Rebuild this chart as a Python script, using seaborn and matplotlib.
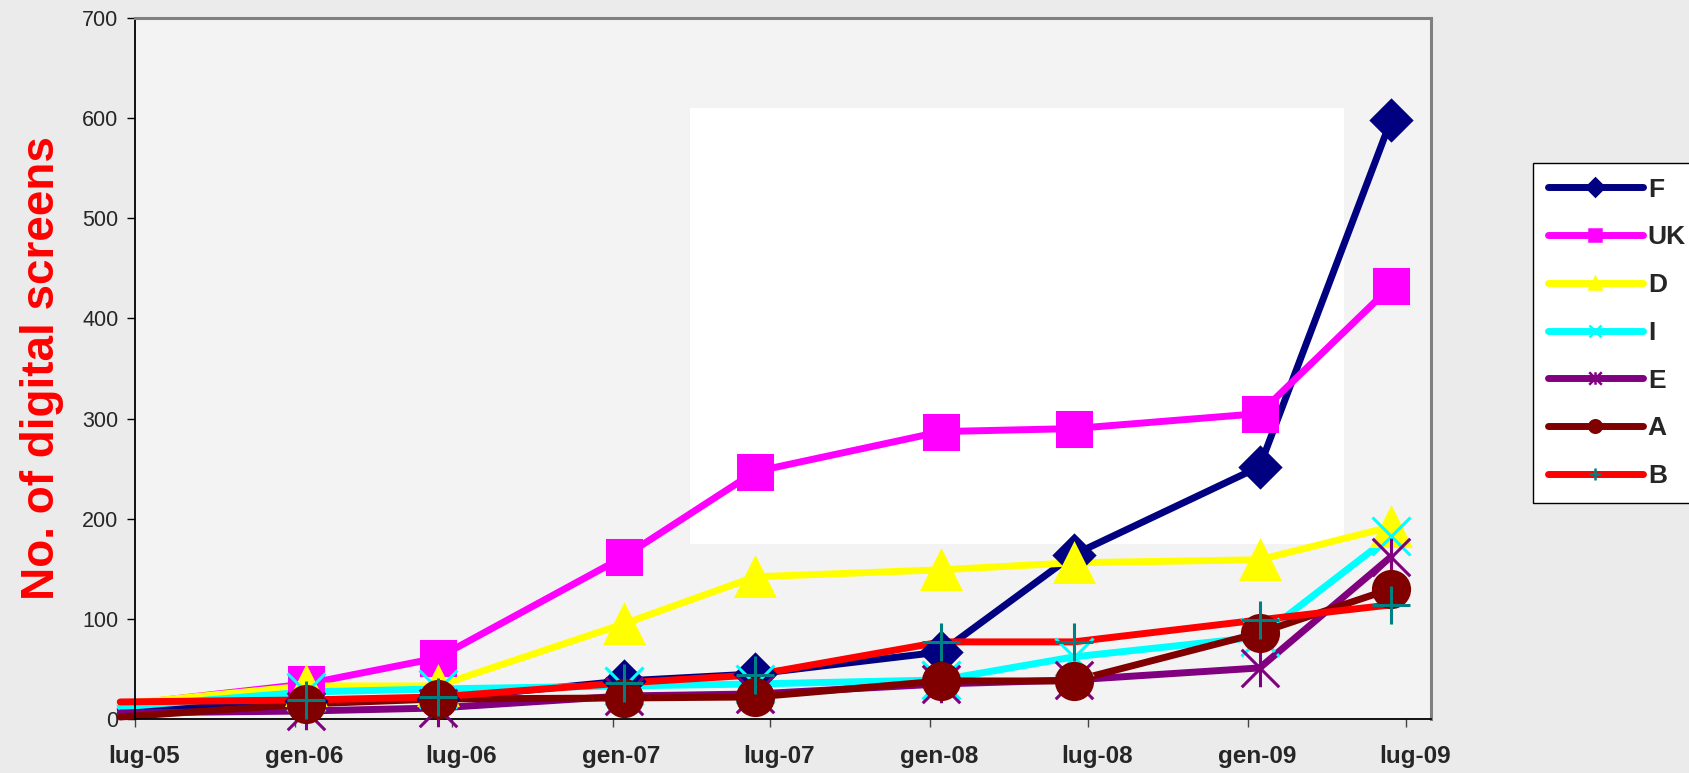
#!/usr/bin/env python3
"""
Digital screens by country, lug-05 .. lug-09
"""

import pandas as pd
import numpy as np
import matplotlib
matplotlib.use("Agg")
import matplotlib.pyplot as plt
import matplotlib.transforms as mtransforms
from matplotlib.path import Path
from matplotlib.lines import Line2D
from matplotlib.patches import Rectangle
import seaborn as sns

# Set style
sns.set_theme(style="white")
plt.rcParams['font.family'] = ['Liberation Sans', 'DejaVu Sans']

# Data
dates = pd.to_datetime(['2005-06-14', '2006-01-14', '2006-06-14', '2007-01-14', '2007-06-14',
                        '2008-01-14', '2008-06-14', '2009-01-14', '2009-06-14'])
F = [10, 18, 20, 38, 45, 67, 164, 252, 598]
UK = [14, 35, 61, 162, 247, 287, 290, 305, 432]
D = [15, 33, 33, 95, 142, 149, 156, 159, 192]
I = [12, 27, 30, 33, 35, 39, 62, 82, 183]
E = [6, 8, 11, 23, 25, 35, 39, 51, 162]
A = [2, 15, 20, 21, 22, 38, 38, 86, 130]
B = [17, 19, 22, 36, 44, 77, 77, 99, 114]

countries = ['F', 'UK', 'D', 'I', 'E', 'A', 'B']
tick_dates = pd.to_datetime(['2005-07-01', '2006-01-01', '2006-07-01', '2007-01-01', '2007-07-01',
                             '2008-01-01', '2008-07-01', '2009-01-01', '2009-07-01'])
tick_labels = ['lug-05', 'gen-06', 'lug-06', 'gen-07', 'lug-07', 'gen-08', 'lug-08', 'gen-09', 'lug-09']
y_ticks = [0, 100, 200, 300, 400, 500, 600, 700]

# long table
df = pd.DataFrame({'date': list(dates) * len(countries),
                   'country': np.repeat(countries, len(dates)),
                   'screens': F + UK + D + I + E + A + B})

# Excel style asterisk: X plus vertical bar
asterisk = Path([(0, -1), (0, 1), (-1, -1), (1, 1), (-1, 1), (1, -1)],
                [Path.MOVETO, Path.LINETO, Path.MOVETO, Path.LINETO, Path.MOVETO, Path.LINETO])

# line colour, marker, size (pt), face, edge
styles = {
    'F': ('#000080', 'D', 20, '#000080', '#000080'),
    'UK': ('#FF00FF', 's', 24, '#FF00FF', '#FF00FF'),
    'D': ('#FFFF00', '^', 28, '#FFFF00', '#FFFF00'),
    'I': ('#00FFFF', 'x', 27, '#00FFFF', '#00FFFF'),
    'E': ('#800080', asterisk, 27, '#800080', '#800080'),
    'A': ('#800000', 'o', 26, '#800000', '#800000'),
    'B': ('#FF0000', '+', 27, '#008080', '#008080'),
}

fig = plt.figure(figsize=(16.9, 7.73), dpi=100, facecolor='#ebebeb')
ax = fig.add_axes([135 / 1690, 1 - 719 / 773, 1296 / 1690, 701 / 773])
ax.set_facecolor('#f3f3f3')

# bright patch from the backdrop
ax.add_patch(Rectangle((0.428, 0.249), 0.505, 0.623, transform=ax.transAxes,
                       facecolor='white', edgecolor='none', zorder=0))

# lines first, then markers (Excel draws markers over all lines)
for c in countries:
    col = styles[c][0]
    sub = df[df['country'] == c]
    sns.lineplot(data=sub, x='date', y='screens', color=col, linewidth=5,
                 ax=ax, clip_on=False, zorder=2)

for c in countries:
    col, mk, ms, fc, ec = styles[c]
    sub = df[df['country'] == c].iloc[1:]
    sns.lineplot(data=sub, x='date', y='screens', color=col, linestyle='',
                 marker=mk, markersize=ms, markerfacecolor=fc, markeredgecolor=ec,
                 markeredgewidth=2.2, ax=ax, clip_on=False, zorder=3)

ax.set_xlim(pd.Timestamp('2005-07-01'), pd.Timestamp('2009-07-30'))
ax.set_ylim(0, 700)
ax.set_yticks(y_ticks)
ax.set_yticklabels([str(v) for v in y_ticks], fontsize=15.5)
ax.set_xticks(tick_dates)
ax.set_xticklabels(tick_labels, fontsize=17.5, fontweight='bold')
ax.tick_params(axis='y', direction='out', length=6, width=1, color='black', pad=6, left=True)
ax.tick_params(axis='x', direction='out', length=6, width=1, color='#444444', pad=13, bottom=True)
offset = mtransforms.ScaledTranslation(9 / 100, 0, fig.dpi_scale_trans)
for lab in ax.get_xticklabels():
    lab.set_transform(lab.get_transform() + offset)

ax.set_xlabel('')
ax.set_ylabel('No. of digital screens', color='#FF0000', fontsize=33, fontweight='bold')
ax.yaxis.set_label_coords(-0.055, 0.5)

for side in ['left', 'bottom']:
    ax.spines[side].set_color('black')
    ax.spines[side].set_linewidth(1.3)
for side in ['top', 'right']:
    ax.spines[side].set_color('#808080')
    ax.spines[side].set_linewidth(2.2)

# Legend
handles = []
for c in countries:
    col, mk, ms, fc, ec = styles[c]
    handles.append(Line2D([], [], color=col, linewidth=5, solid_capstyle='round',
                          marker=mk, markersize=9, markerfacecolor=fc,
                          markeredgecolor=ec, markeredgewidth=1.8))
leg = fig.legend(handles, countries, loc='upper left',
                 bbox_to_anchor=(1533 / 1690, 1 - 163 / 773),
                 prop={'weight': 'bold', 'size': 19}, frameon=True, fancybox=False,
                 framealpha=1, edgecolor='black', handlelength=3.6, handletextpad=0.2,
                 labelspacing=0.9, borderpad=0.55, borderaxespad=0)
leg.get_frame().set_linewidth(1)

plt.savefig('out.png', dpi=100, facecolor=fig.get_facecolor())
plt.close()
